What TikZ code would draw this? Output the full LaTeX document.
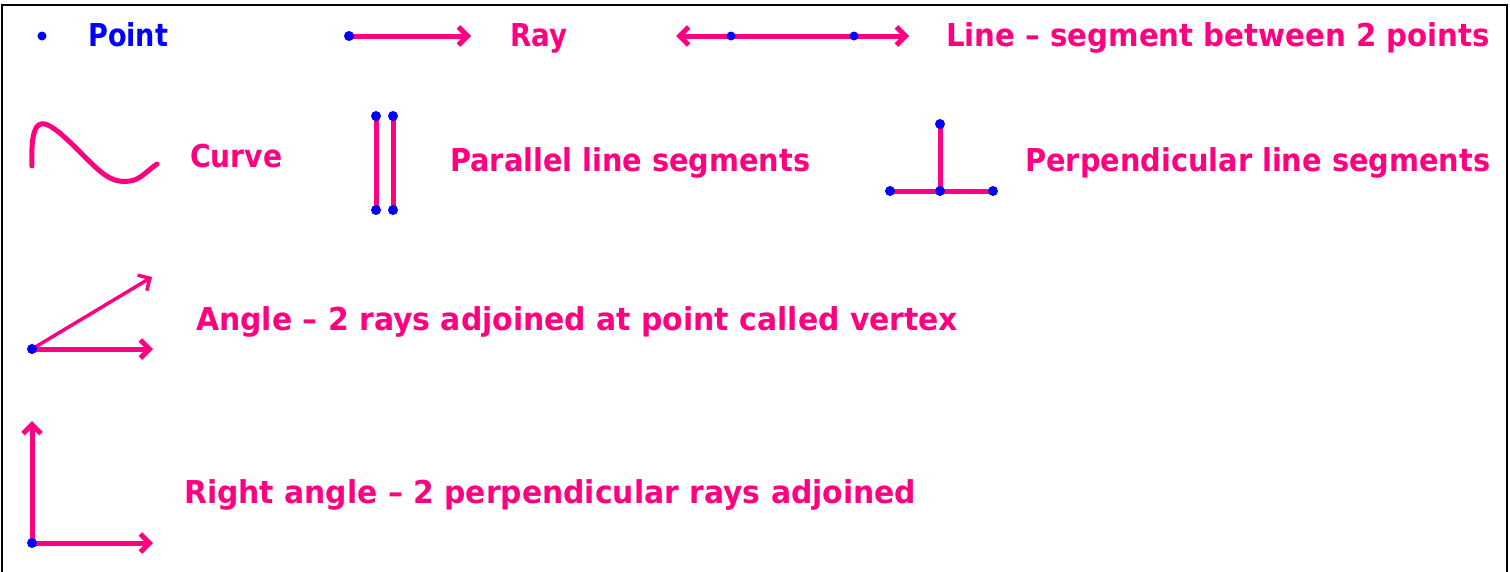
\documentclass[tikz,border=0pt]{standalone}
\usepackage{fontspec}
\setmainfont{DejaVu Sans}
\usetikzlibrary{arrows.meta}
\definecolor{pk}{RGB}{255,0,128}
\definecolor{bl}{RGB}{0,0,255}
\newcommand\fitw[2]{\sbox0{#2}\pgfmathsetmacro\fitratio{#1/\the\wd0}\scalebox{\fitratio}[1.05]{\usebox0}}
\tikzset{
  arw/.tip={Straight Barb[length=9pt,width=18pt]},
  txt/.style={anchor=base west, inner sep=0pt, text=pk, font=\bfseries\fontsize{30}{36}\selectfont},
  ln/.style={draw=pk, line width=5pt},
  thinln/.style={draw=pk, line width=3.5pt},
  dot/.style={circle, fill=bl, inner sep=0pt, minimum size=10pt},
  frame/.style={draw=black, line width=2.5pt}
}
\begin{document}
\begin{tikzpicture}[x=1pt,y=-1pt]
\useasboundingbox (0,0) rectangle (1510,571);
\fill[white] (0,0) rectangle (1510,571);
\draw[frame] (2,575) |- (1507,5) -- (1507,575);

% Row 1: point
\node[dot, minimum size=9pt] (pt) at (42,36) {};
\node[txt, text=bl] (tpoint) at (88,46) {\fitw{80}{Point}};

% Ray
\coordinate (rA) at (349,36);
\coordinate (rB) at (471,36);
\draw[ln,-{arw}] (rA) -- (rB);
\node[dot] (rAd) at (rA) {};
\node[txt] (tray) at (510,46) {\fitw{57}{Ray}};

% Line
\coordinate (lL) at (676,36);
\coordinate (lR) at (909,36);
\coordinate (l1) at (731,36);
\coordinate (l2) at (854,36);
\draw[ln,{arw}-{arw}] (lL) -- (lR);
\node[dot, minimum size=9pt] (l1d) at (l1) {};
\node[dot, minimum size=9pt] (l2d) at (l2) {};
\node[txt] (tline) at (946,46) {\fitw{544}{Line – segment between 2 points}};

% Curve
\coordinate (c0) at (32,166);
\coordinate (c1) at (157,164);
\draw[ln, line join=round, line cap=round] (c0) .. controls (30,108) and (45,118) .. (75,147)
  .. controls (100,172) and (110,184) .. (130,181) .. controls (140,180) and (148,170) .. (c1);
\node[txt] (tcurve) at (190,167) {\fitw{92}{Curve}};

% Parallel
\coordinate (p1a) at (376,116);
\coordinate (p1b) at (376,210);
\coordinate (p2a) at (393,116);
\coordinate (p2b) at (393,210);
\draw[ln] (p1a) -- (p1b);
\draw[ln] (p2a) -- (p2b);
\foreach \c in {p1a,p1b,p2a,p2b} \node[dot] (\c d) at (\c) {};
\node[txt] (tpar) at (450,171) {\fitw{360}{Parallel line segments}};

% Perpendicular
\coordinate (qT) at (940,124);
\coordinate (qM) at (940,191);
\coordinate (qL) at (890,191);
\coordinate (qR) at (993,191);
\draw[ln] (qT) -- (qM);
\draw[ln] (qL) -- (qR);
\foreach \c in {qT,qM,qL,qR} \node[dot] (\c d) at (\c) {};
\node[txt] (tperp) at (1025,171) {\fitw{465}{Perpendicular line segments}};

% Angle
\coordinate (aV) at (32,349);
\coordinate (aU) at (152,277);
\coordinate (aH) at (153,349);
\draw[thinln,-{arw}] (aV) -- (aU);
\draw[ln,-{arw}] (aV) -- (aH);
\node[dot] (aVd) at (aV) {};
\node[txt] (tang) at (196,330) {\fitw{762}{Angle – 2 rays adjoined at point called vertex}};

% Right angle
\coordinate (bV) at (32,543);
\coordinate (bU) at (32,421);
\coordinate (bH) at (153,543);
\draw[ln,-{arw}] (bV) -- (bU);
\draw[ln,-{arw}] (bV) -- (bH);
\node[dot] (bVd) at (bV) {};
\node[txt] (tright) at (184,503) {\fitw{732}{Right angle – 2 perpendicular rays adjoined}};
\end{tikzpicture}
\end{document}
